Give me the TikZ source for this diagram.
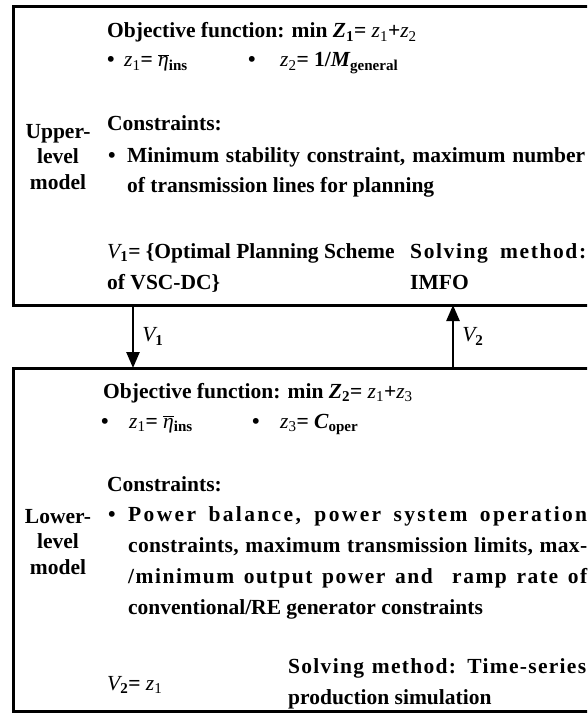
\documentclass[tikz,border=0pt]{standalone}
\usepackage{fontspec}
\setmainfont{Liberation Serif}
\usetikzlibrary{arrows.meta}

\newcommand{\zv}[1]{{\mdseries\itshape z}\textsubscript{\mdseries #1}}
\newcommand{\vv}[1]{{\mdseries\itshape V}\textsubscript{#1}}
\newcommand{\etains}{{\mdseries$\overline{\mbox{\itshape η}}$}\textsubscript{ins}}
\newcommand{\spaced}[3]{\makebox[#1][s]{\addfontfeatures{LetterSpace=#2}#3}}

\begin{document}
\begin{tikzpicture}[
    x=1pt, y=-1pt,
    modelbox/.style={draw, line width=3pt, outer sep=0pt, anchor=north west, minimum width=620pt},
    txt/.style={anchor=base west, inner sep=0pt, font=\fontsize{21.5}{31}\selectfont\bfseries},
    tag/.style={align=center, inner sep=0pt, font=\fontsize{21.5}{25.5}\selectfont\bfseries},
    flow/.style={-{Triangle[length=16pt,width=13pt]}, line width=2.5pt}
]
    \useasboundingbox (0,0) rectangle (587,714);
    \clip (0,0) rectangle (587,714);

    % Boxes
    \node[modelbox, minimum height=298pt] (upper) at (13,7) {};
    \node[modelbox, minimum height=343pt] (lower) at (13,368) {};
    \node[tag] (uptag) at (58,157) {Upper-\\level\\model};
    \node[tag] (lowtag) at (58,542) {Lower-\\level\\model};

    % Upper-level model
    \node[txt] (obj1) at (107,38) {Objective function: min {\itshape Z}\textsubscript{1}= \zv{1}+\zv{2}};
    \node[txt] (b11) at (107,67) {\makebox[17pt][l]{\textbullet}\zv{1}= \etains};
    \node[txt] (b12) at (248,67) {\makebox[32pt][l]{\textbullet}\zv{2}= 1/{\itshape M}\textsubscript{general}};
    \node[txt] (con1) at (107,131) {Constraints:};
    \node[txt] (c11) at (108,163) {\makebox[19pt][l]{\textbullet}\spaced{458pt}{0}{Minimum stability constraint, maximum number}};
    \node[txt] (c12) at (127,193) {of transmission lines for planning};
    \node[txt] (out1) at (107,258) {\vv{1}= \{Optimal Planning Scheme};
    \node[txt] (out1b) at (107,289) {of VSC-DC\}};
    \node[txt] (sol1) at (410,258) {\spaced{176pt}{7.5}{Solving method:}};
    \node[txt] (sol1b) at (410,289) {IMFO};

    % Lower-level model
    \node[txt] (obj2) at (103,398) {Objective function: min {\itshape Z}\textsubscript{2}= \zv{1}+\zv{3}};
    \node[txt] (b21) at (101,428) {\makebox[28pt][l]{\textbullet}\zv{1}= \etains};
    \node[txt] (b22) at (252,428) {\makebox[28pt][l]{\textbullet}\zv{3}= {\itshape C}\textsubscript{oper}};
    \node[txt] (con2) at (107,491) {Constraints:};
    \node[txt] (c21) at (108,521) {\makebox[20pt][l]{\textbullet}\spaced{459pt}{11}{Power balance, power system operation}};
    \node[txt] (c22) at (128,552) {\spaced{459pt}{1.5}{constraints, maximum transmission limits, max-}};
    \node[txt] (c23) at (128,583) {\spaced{459pt}{7}{/minimum output power and \ ramp rate of}};
    \node[txt] (c24) at (128,614) {conventional/RE generator constraints};
    \node[txt] (out2) at (107,690) {\vv{2}= \zv{1}};
    \node[txt] (sol2) at (288,673) {\spaced{298pt}{6}{Solving method: Time-series}};
    \node[txt] (sol2b) at (288,704) {production simulation};

    % Edges with labels
    \coordinate (a1) at (133,0);
    \coordinate (a2) at (453,0);
    \draw[flow] (upper.south -| a1) -- node[tag, right=8pt] {\vv{1}} (lower.north -| a1);
    \draw[flow] (lower.north -| a2) -- node[tag, right=8pt] {\vv{2}} (upper.south -| a2);

\end{tikzpicture}
\end{document}
